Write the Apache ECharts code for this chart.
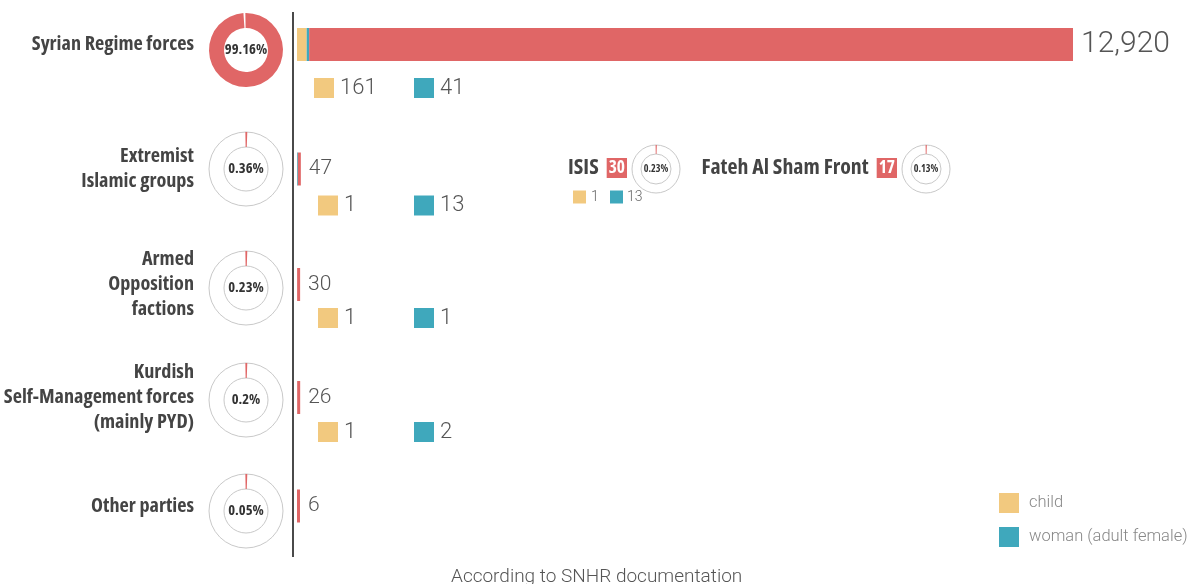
<!DOCTYPE html>
<html><head><meta charset="utf-8">
<script src="https://cdn.jsdelivr.net/npm/echarts@6/dist/echarts.min.js"></script>
<style>html,body{margin:0;padding:0;background:#fff}#c{width:1189px;height:584px}</style>
</head><body><div id="c"></div>
<script>
// ---------- data ----------
const categories = ['Syrian Regime forces', 'Extremist\nIslamic groups', 'Armed\nOpposition\nfactions', 'Kurdish\nSelf-Management forces\n(mainly PYD)', 'Other parties'];
const totals = [12920, 47, 30, 26, 6];
const children = [161, 1, 1, 1, null];
const women = [41, 13, 1, 2, null];
const shares = [99.16, 0.36, 0.23, 0.2, 0.05];
const subGroups = ['ISIS', 'Fateh Al Sham Front'];
const subTotals = [30, 17];
const subShares = [0.23, 0.13];
const subChildren = [1, null];
const subWomen = [13, null];
const legendNames = ['child', 'woman (adult female)'];
const sourceNote = 'According to SNHR documentation';

// ---------- font detection (narrow bold) ----------
function pickNarrow() {
  const ctx = document.createElement('canvas').getContext('2d');
  const s = 'Syrian Regime forces';
  function w(font) { ctx.font = '10px serif'; ctx.font = font; return ctx.font === '10px serif' ? null : ctx.measureText(s).width; }
  function exists(fam) { const a = w('bold 18px ' + fam + ', monospace'), b = w('bold 18px ' + fam + ', serif'); return a != null && a === b; }
  const cands = [["'Liberation Sans Narrow'", 'bold'], ["'DejaVu Sans Condensed'", 'bold'], ["'Arial Narrow'", 'bold'],
    ["'Open Sans'", 'bold condensed'], ["'Noto Sans'", 'bold condensed'], ["'DejaVu Sans'", 'bold condensed'], ['Roboto', 'bold condensed'], ['Inter', 'bold condensed']];
  for (const [fam, wt] of cands) {
    if (!exists(fam)) continue;
    const width = w(wt + ' 18px ' + fam);
    if (width && width < 176) return { fam, wt, k: Math.max(0.85, Math.min(1.12, 163 / width)) };
  }
  const width = w('bold 18px Roboto') || 190;
  return { fam: 'Roboto', wt: 'bold', k: 163 / width };
}
const NF = pickNarrow();

// ---------- layout / style ----------
const RED = '#E06666', YEL = '#F2C97F', TEAL = '#3FA8BC', TXT = '#555';
const NARROW = NF.fam + ', sans-serif';
const NW = NF.wt;
const nz = (s) => Math.round(s * NF.k * 10) / 10;
const LIGHT = "Roboto,'Helvetica Neue',Arial,sans-serif";
const rowCenters = [44.5, 169, 284.5, 397.5, 506];
const donutCenters = [50, 169, 288, 400, 511];
const subDy = [60, 53, 50, 51, 50];
const subDonutX = [656, 926];
const subTitleRight = [627, 897];
const barLeft = 297, barW = 776;
const maxTotal = Math.max(...totals);

const grid = [], xAxis = [], yAxis = [], series = [];

categories.forEach((cat, i) => {
  grid.push({ left: barLeft, width: barW, top: rowCenters[i] - 20, height: 40, outerBoundsMode: 'none', containLabel: false });
  xAxis.push({ gridIndex: i, type: 'value', min: 0, max: maxTotal, show: false });
  yAxis.push({
    gridIndex: i, type: 'category', data: [cat],
    axisLine: { show: false }, axisTick: { show: false },
    axisLabel: { margin: 103, fontFamily: NARROW, fontWeight: NW, fontSize: nz(18), color: '#444', lineHeight: 25 }
  });
  const hasSub = children[i] != null;
  series.push({
    type: 'bar', name: legendNames[0], xAxisIndex: i, yAxisIndex: i, stack: 'r' + i, barWidth: 33,
    silent: true, data: [children[i] || 0], itemStyle: { color: YEL },
    label: {
      show: hasSub, position: [i === 0 ? 17 : 21, subDy[i]], align: 'left', verticalAlign: 'middle',
      formatter: '{c1|}{n1|' + children[i] + '}{c2|}{n2|' + women[i] + '}',
      rich: {
        c1: { width: 20, height: 20, backgroundColor: YEL },
        c2: { width: 20, height: 20, backgroundColor: TEAL },
        n1: { fontSize: 22, fontFamily: LIGHT, fontWeight: 300, color: TXT, width: i === 0 ? 74 : 70, padding: [0, 0, 0, 6] },
        n2: { fontSize: 22, fontFamily: LIGHT, fontWeight: 300, color: TXT, padding: [0, 0, 0, 6] }
      }
    }
  });
  series.push({
    type: 'bar', name: legendNames[1], xAxisIndex: i, yAxisIndex: i, stack: 'r' + i, barWidth: 33,
    silent: true, data: [women[i] || 0], itemStyle: { color: TEAL }
  });
  series.push({
    type: 'bar', name: 'total', xAxisIndex: i, yAxisIndex: i, stack: 'r' + i, barWidth: 33, barMinHeight: 3,
    silent: true, data: [totals[i] - (children[i] || 0) - (women[i] || 0)], itemStyle: { color: RED },
    label: {
      show: true, position: 'right', distance: 8,
      formatter: () => totals[i].toLocaleString('en-US'),
      fontSize: i === 0 ? 30 : 21, fontFamily: LIGHT, fontWeight: 300, color: TXT
    }
  });
});

function addDonut(cx, cy, rIn, rOut, pct, fs) {
  if (pct < 50) {
    series.push({
      type: 'pie', center: [cx, cy], radius: [rIn, rOut], silent: true, z: 1,
      label: { show: false }, labelLine: { show: false }, emphasis: { disabled: true },
      data: [{ value: 1, itemStyle: { color: 'rgba(0,0,0,0)', borderColor: '#c9c9c9', borderWidth: 1 } }]
    });
  }
  series.push({
    type: 'pie', center: [cx, cy], radius: [rIn, rOut], silent: true, z: 2,
    startAngle: 91, minAngle: 3, avoidLabelOverlap: false,
    labelLine: { show: false }, emphasis: { disabled: true },
    data: [
      { value: pct, itemStyle: { color: RED },
        label: { show: true, position: 'center', formatter: pct + '%', fontFamily: NARROW, fontWeight: NW, fontSize: fs, color: '#333' } },
      { value: 100 - pct, itemStyle: { color: 'rgba(0,0,0,0)' }, label: { show: false } }
    ]
  });
}
shares.forEach((p, i) => addDonut(246, donutCenters[i], 22, 37, p, nz(13)));
subShares.forEach((p, j) => addDonut(subDonutX[j], 169, 15, 24, p, nz(9)));

const graphic = [
  { type: 'line', silent: true, shape: { x1: 293, y1: 12, x2: 293, y2: 557 }, style: { stroke: '#4a4a4a', lineWidth: 2 } }
];
subGroups.forEach((g, j) => {
  graphic.push({
    type: 'text', silent: true, x: subTitleRight[j], y: 168,
    style: {
      text: '{n|' + g + '}{g|}{b|' + subTotals[j] + '}', align: 'right', verticalAlign: 'middle',
      rich: {
        n: { fontFamily: NARROW, fontWeight: NW, fontSize: nz(19.5), fill: '#444' },
        g: { width: 8 },
        b: { fontFamily: NARROW, fontWeight: NW, fontSize: nz(15.5), fill: '#fff', backgroundColor: RED, padding: [2, 2, 1, 2] }
      }
    }
  });
  if (subChildren[j] != null) {
    graphic.push({
      type: 'text', silent: true, x: 573, y: 197,
      style: {
        text: '{c1|}{n1|' + subChildren[j] + '}{c2|}{n2|' + subWomen[j] + '}', verticalAlign: 'middle',
        rich: {
          c1: { width: 13, height: 13, backgroundColor: YEL },
          c2: { width: 13, height: 13, backgroundColor: TEAL },
          n1: { fontSize: 14, fontFamily: LIGHT, fontWeight: 300, fill: '#666', width: 19, padding: [0, 0, 0, 5] },
          n2: { fontSize: 14, fontFamily: LIGHT, fontWeight: 300, fill: '#666', padding: [0, 0, 0, 4] }
        }
      }
    });
  }
});

const chart = echarts.init(document.getElementById('c'));
chart.setOption({
  animation: false,
  backgroundColor: '#fff',
  title: { text: sourceNote, left: 451, top: 568, padding: 0, textStyle: { fontSize: 19, fontWeight: 300, color: '#555', fontFamily: LIGHT } },
  legend: {
    data: legendNames, orient: 'vertical', left: 999, top: 493, icon: 'rect', padding: 0,
    itemWidth: 20, itemHeight: 20, itemGap: 14, selectedMode: false,
    textStyle: { fontSize: 16.5, color: '#888', fontFamily: LIGHT, fontWeight: 300, padding: [0, 0, 0, 5] }
  },
  grid, xAxis, yAxis, series, graphic
});
</script>
</body></html>
